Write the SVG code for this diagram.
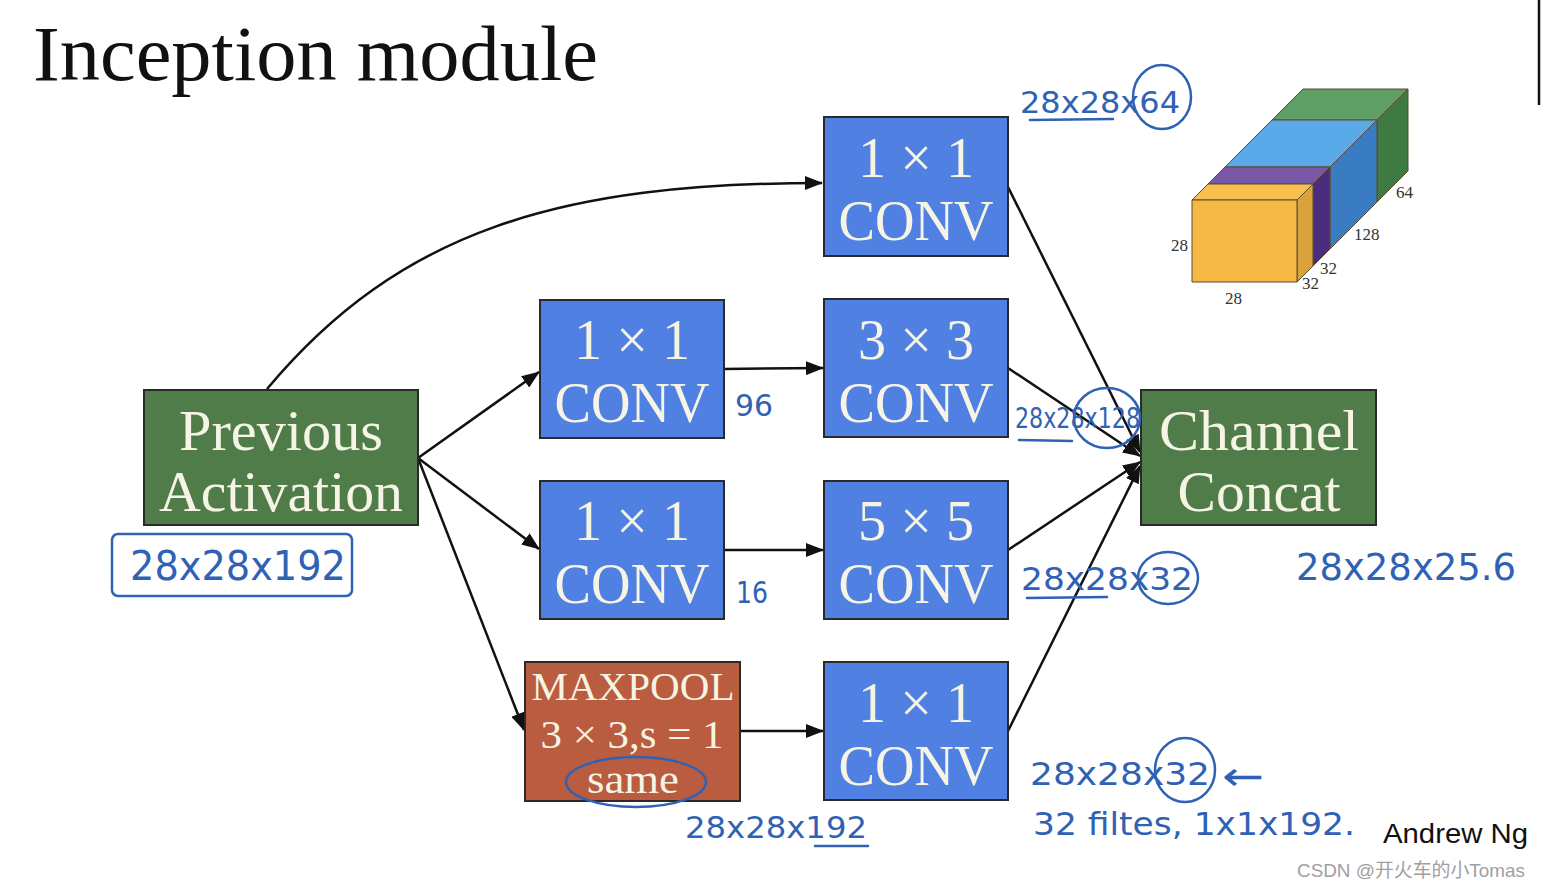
<svg xmlns="http://www.w3.org/2000/svg" width="1541" height="888" viewBox="0 0 1541 888">
<style>
.node{stroke:#2a2a2a;stroke-width:2}
.green{fill:#4f7c48}
.blue{fill:#4f80e2}
.red{fill:#b95c40}
.lbl{font-family:"Liberation Serif",serif;fill:#f6f4e4;text-anchor:middle}
.big{font-size:56px}
.mid{font-size:41px}
.conn{fill:none;stroke:#111;stroke-width:2.5}
.hw{font-family:"DejaVu Sans","Liberation Sans",sans-serif;fill:#2f62b4}
.hwl{fill:none;stroke:#2f62b4;stroke-width:2.5;stroke-linecap:round}
.dim{font-family:"Liberation Serif",serif;font-size:17px;fill:#333}
</style>
<defs>
<marker id="ah" markerUnits="userSpaceOnUse" markerWidth="18" markerHeight="14" refX="17" refY="7" orient="auto">
<path d="M0,0 L18,7 L0,14 z" fill="#111"/>
</marker>
</defs>
<rect width="1541" height="888" fill="#ffffff"/>
<text x="33" y="80" font-family="Liberation Serif,serif" font-size="78" fill="#111" textLength="565" lengthAdjust="spacingAndGlyphs">Inception module</text>
<line x1="1539" y1="0" x2="1539" y2="105" stroke="#111" stroke-width="2.5"/>

<g id="connectors">
<path class="conn" d="M267,389 C400,230 560,183 822,183" marker-end="url(#ah)"/>
<line class="conn" x1="418" y1="458" x2="539" y2="372" marker-end="url(#ah)"/>
<line class="conn" x1="418" y1="458" x2="539" y2="549" marker-end="url(#ah)"/>
<line class="conn" x1="418" y1="458" x2="524" y2="730" marker-end="url(#ah)"/>
<line class="conn" x1="724" y1="369" x2="823" y2="368" marker-end="url(#ah)"/>
<line class="conn" x1="724" y1="550" x2="823" y2="550" marker-end="url(#ah)"/>
<line class="conn" x1="740" y1="731" x2="823" y2="731" marker-end="url(#ah)"/>
<line class="conn" x1="1008" y1="187" x2="1140" y2="452" marker-end="url(#ah)"/>
<line class="conn" x1="1008" y1="368" x2="1140" y2="456" marker-end="url(#ah)"/>
<line class="conn" x1="1008" y1="550" x2="1140" y2="462" marker-end="url(#ah)"/>
<line class="conn" x1="1008" y1="731" x2="1140" y2="466" marker-end="url(#ah)"/>
</g>

<g id="prev">
<rect class="node green" x="144" y="390" width="274" height="135"/>
<text class="lbl big" x="281" y="450" textLength="204" lengthAdjust="spacingAndGlyphs">Previous</text>
<text class="lbl big" x="281" y="511" textLength="244" lengthAdjust="spacingAndGlyphs">Activation</text>
</g>
<g id="conv1x1_top">
<rect class="node blue" x="824" y="117" width="184" height="139"/>
<text class="lbl big" x="916" y="177" textLength="116" lengthAdjust="spacingAndGlyphs">1 × 1</text>
<text class="lbl big" x="916" y="240" textLength="155" lengthAdjust="spacingAndGlyphs">CONV</text>
</g>
<g id="conv1x1_a">
<rect class="node blue" x="540" y="300" width="184" height="138"/>
<text class="lbl big" x="632" y="359" textLength="116" lengthAdjust="spacingAndGlyphs">1 × 1</text>
<text class="lbl big" x="632" y="422" textLength="155" lengthAdjust="spacingAndGlyphs">CONV</text>
</g>
<g id="conv3x3">
<rect class="node blue" x="824" y="299" width="184" height="138"/>
<text class="lbl big" x="916" y="359" textLength="116" lengthAdjust="spacingAndGlyphs">3 × 3</text>
<text class="lbl big" x="916" y="422" textLength="155" lengthAdjust="spacingAndGlyphs">CONV</text>
</g>
<g id="conv1x1_b">
<rect class="node blue" x="540" y="481" width="184" height="138"/>
<text class="lbl big" x="632" y="540" textLength="116" lengthAdjust="spacingAndGlyphs">1 × 1</text>
<text class="lbl big" x="632" y="603" textLength="155" lengthAdjust="spacingAndGlyphs">CONV</text>
</g>
<g id="conv5x5">
<rect class="node blue" x="824" y="481" width="184" height="138"/>
<text class="lbl big" x="916" y="540" textLength="116" lengthAdjust="spacingAndGlyphs">5 × 5</text>
<text class="lbl big" x="916" y="603" textLength="155" lengthAdjust="spacingAndGlyphs">CONV</text>
</g>
<g id="maxpool">
<rect class="node red" x="525" y="662" width="215" height="139"/>
<text class="lbl mid" x="633" y="700" textLength="203" lengthAdjust="spacingAndGlyphs">MAXPOOL</text>
<text class="lbl mid" x="632" y="748" textLength="183" lengthAdjust="spacingAndGlyphs">3 × 3,s = 1</text>
<text class="lbl mid" x="633" y="793" textLength="92" lengthAdjust="spacingAndGlyphs">same</text>
</g>
<g id="conv1x1_c">
<rect class="node blue" x="824" y="662" width="184" height="138"/>
<text class="lbl big" x="916" y="722" textLength="116" lengthAdjust="spacingAndGlyphs">1 × 1</text>
<text class="lbl big" x="916" y="785" textLength="155" lengthAdjust="spacingAndGlyphs">CONV</text>
</g>
<g id="concat">
<rect class="node green" x="1141" y="390" width="235" height="135"/>
<text class="lbl big" x="1259" y="450" textLength="200" lengthAdjust="spacingAndGlyphs">Channel</text>
<text class="lbl big" x="1259" y="511" textLength="163" lengthAdjust="spacingAndGlyphs">Concat</text>
</g>

<g id="volume" stroke="#5a4a30" stroke-width="1" stroke-linejoin="round">
<polygon points="1272,120 1377,120 1408,89 1303,89" fill="#5f9f65"/>
<polygon points="1377,120 1408,89 1408,171 1377,202" fill="#3f7a43"/>
<polygon points="1225,167 1330,167 1377,120 1272,120" fill="#5aaaea"/>
<polygon points="1330,167 1377,120 1377,202 1330,249" fill="#3a7cc2"/>
<polygon points="1208,184 1313,184 1330,167 1225,167" fill="#7a58a8"/>
<polygon points="1313,184 1330,167 1330,249 1313,266" fill="#4a2d7c"/>
<polygon points="1192,200 1297,200 1313,184 1208,184" fill="#f8c14e"/>
<polygon points="1297,200 1313,184 1313,266 1297,282" fill="#daa23a"/>
<rect x="1192" y="200" width="105" height="82" fill="#f5b845"/>
</g>
<g id="volume_labels">
<text class="dim" x="1171" y="251">28</text>
<text class="dim" x="1225" y="304">28</text>
<text class="dim" x="1302" y="289">32</text>
<text class="dim" x="1320" y="274">32</text>
<text class="dim" x="1354" y="240">128</text>
<text class="dim" x="1396" y="198">64</text>
</g>

<g id="annotations">
<text class="hw" x="1020" y="113" font-size="30" textLength="160" lengthAdjust="spacingAndGlyphs">28x28x64</text>
<line class="hwl" x1="1030" y1="120" x2="1113" y2="119"/>
<ellipse class="hwl" cx="1162" cy="97" rx="29" ry="32"/>

<text class="hw" x="735" y="416" font-size="30" textLength="38" lengthAdjust="spacingAndGlyphs">96</text>
<text class="hw" x="736" y="603" font-size="30" textLength="32" lengthAdjust="spacingAndGlyphs">16</text>

<text class="hw" x="1015" y="428" font-size="28" textLength="125" lengthAdjust="spacingAndGlyphs">28x28x128</text>
<line class="hwl" x1="1019" y1="440" x2="1072" y2="441"/>
<ellipse class="hwl" cx="1107" cy="418" rx="33" ry="30"/>

<text class="hw" x="1021" y="590" font-size="32" textLength="172" lengthAdjust="spacingAndGlyphs">28x28x32</text>
<line class="hwl" x1="1027" y1="598" x2="1107" y2="597"/>
<ellipse class="hwl" cx="1168" cy="578" rx="30" ry="26"/>

<rect class="hwl" x="112" y="534" width="240" height="62" rx="6"/>
<text class="hw" x="130" y="580" font-size="40" textLength="216" lengthAdjust="spacingAndGlyphs">28x28x192</text>

<text class="hw" x="1296" y="580" font-size="38" textLength="220" lengthAdjust="spacingAndGlyphs">28x28x25.6</text>

<ellipse class="hwl" cx="636" cy="782" rx="70" ry="25"/>
<text class="hw" x="685" y="838" font-size="30" textLength="182" lengthAdjust="spacingAndGlyphs">28x28x192</text>
<line class="hwl" x1="815" y1="846" x2="868" y2="846"/>

<text class="hw" x="1030" y="785" font-size="32" textLength="180" lengthAdjust="spacingAndGlyphs">28x28x32</text>
<ellipse class="hwl" cx="1185" cy="770" rx="30" ry="32"/>
<text class="hw" x="1222" y="790" font-size="40" textLength="42" lengthAdjust="spacingAndGlyphs">←</text>
<text class="hw" x="1033" y="835" font-size="32" textLength="322" lengthAdjust="spacingAndGlyphs">32 filtes, 1x1x192.</text>
</g>

<text x="1383" y="843" font-family="Liberation Sans,sans-serif" font-size="28" fill="#111" textLength="145" lengthAdjust="spacingAndGlyphs">Andrew Ng</text>
<text x="1297" y="877" font-family="Liberation Sans,'Noto Sans CJK SC',sans-serif" font-size="19" fill="#a0a0a0" textLength="228" lengthAdjust="spacingAndGlyphs">CSDN @开火车的小Tomas</text>
</svg>
